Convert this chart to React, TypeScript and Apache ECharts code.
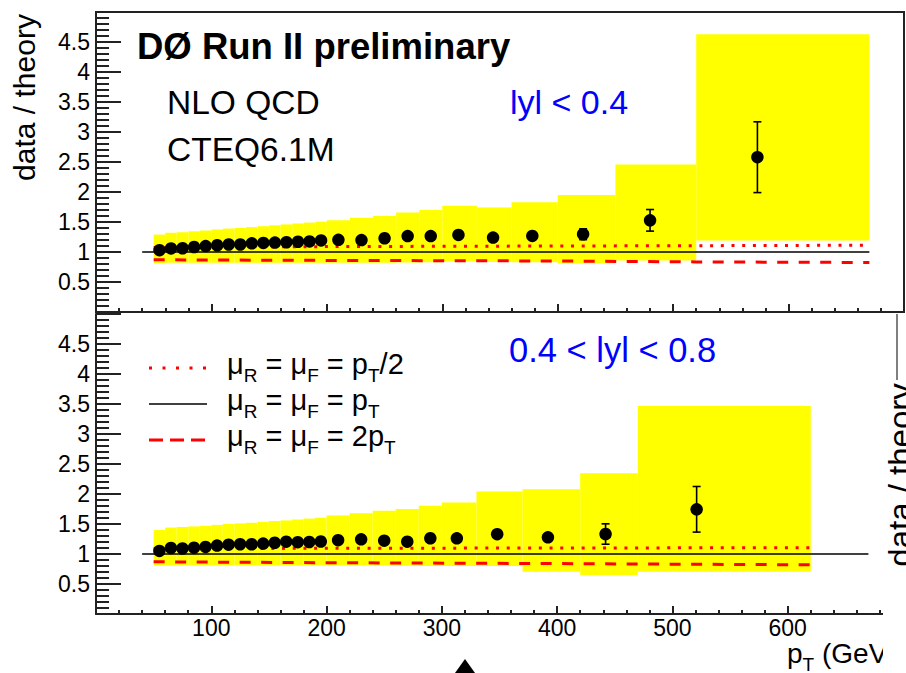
import React, { useEffect, useRef } from "react";
import * as echarts from "echarts";

const FONT = "'Liberation Sans', Arial, Helvetica, sans-serif";

// ---------- |y| < 0.4 ----------
const ptCentral = [55, 65, 75, 85, 95, 105, 115, 125, 135, 145, 155, 165, 175, 185, 195, 210, 230, 250, 270, 290, 314, 344, 378, 422, 480, 573];
const ratioCentral = [1.03, 1.06, 1.063, 1.083, 1.098, 1.112, 1.125, 1.125, 1.144, 1.151, 1.157, 1.163, 1.171, 1.177, 1.193, 1.203, 1.198, 1.229, 1.265, 1.265, 1.284, 1.24, 1.268, 1.296, 1.528, 2.58];
const statErrCentral = [0, 0, 0, 0, 0, 0, 0, 0, 0, 0, 0, 0, 0, 0, 0, 0, 0, 0, 0, 0, 0.02, 0.03, 0.04, 0.09, 0.18, 0.59];
const binEdgesCentral = [50, 60, 70, 80, 90, 100, 110, 120, 130, 140, 150, 160, 170, 180, 190, 200, 220, 240, 260, 280, 300, 330, 360, 400, 450, 520, 670];
const sysHighCentral = [1.29, 1.32, 1.33, 1.345, 1.36, 1.375, 1.39, 1.4, 1.415, 1.43, 1.445, 1.46, 1.475, 1.49, 1.505, 1.53, 1.57, 1.6, 1.66, 1.7, 1.77, 1.74, 1.83, 1.95, 2.46, 4.63];
const sysLowCentral = [0.815, 0.82, 0.82, 0.82, 0.82, 0.82, 0.82, 0.82, 0.82, 0.82, 0.82, 0.82, 0.82, 0.82, 0.82, 0.82, 0.82, 0.82, 0.825, 0.83, 0.84, 0.835, 0.83, 0.81, 0.86, 1.19];
const scaleNodesCentral = [50, 200, 400, 520, 670];
const halfScaleCentral = [1.075, 1.09, 1.1, 1.105, 1.113];
const twiceScaleCentral = [0.87, 0.86, 0.85, 0.835, 0.825];

// ---------- 0.4 < |y| < 0.8 ----------
const ptForward = [55, 65, 75, 85, 95, 105, 115, 125, 135, 145, 155, 165, 175, 185, 195, 210, 230, 250, 270, 290, 313, 348, 392, 442, 521];
const ratioForward = [1.052, 1.1, 1.092, 1.105, 1.118, 1.14, 1.155, 1.163, 1.162, 1.173, 1.187, 1.205, 1.197, 1.2, 1.208, 1.23, 1.245, 1.222, 1.205, 1.262, 1.261, 1.33, 1.278, 1.333, 1.745];
const statErrForward = [0, 0, 0, 0, 0, 0, 0, 0, 0, 0, 0, 0, 0, 0, 0, 0, 0, 0, 0, 0, 0.03, 0.04, 0.05, 0.17, 0.38];
const binEdgesForward = [50, 60, 70, 80, 90, 100, 110, 120, 130, 140, 150, 160, 170, 180, 190, 200, 220, 240, 260, 280, 300, 330, 370, 420, 470, 620];
const sysHighForward = [1.4, 1.44, 1.45, 1.46, 1.47, 1.485, 1.5, 1.51, 1.52, 1.535, 1.55, 1.56, 1.575, 1.59, 1.605, 1.64, 1.68, 1.72, 1.75, 1.805, 1.86, 2.04, 2.08, 2.345, 3.467];
const sysLowForward = [0.805, 0.81, 0.81, 0.81, 0.81, 0.81, 0.81, 0.81, 0.81, 0.81, 0.81, 0.81, 0.81, 0.81, 0.81, 0.81, 0.81, 0.81, 0.805, 0.8, 0.8, 0.8, 0.705, 0.65, 0.705];
const scaleNodesForward = [50, 200, 400, 620];
const halfScaleForward = [1.09, 1.095, 1.1, 1.105];
const twiceScaleForward = [0.87, 0.855, 0.84, 0.82];

const nominalSpan = [40, 670];
const yTicks = [0.5, 1, 1.5, 2, 2.5, 3, 3.5, 4, 4.5];
const xTicks = [100, 200, 300, 400, 500, 600];

const AXIS_COLOR = "#222";

function bandSeries(edges: number[], lo: number[], hi: number[], idx: number) {
  return {
    type: "custom",
    xAxisIndex: idx,
    yAxisIndex: idx,
    z: 1,
    silent: true,
    encode: { x: [0, 1], y: [2, 3] },
    data: hi.map((h, i) => [edges[i], edges[i + 1], lo[i], h]),
    renderItem: (_p: any, api: any) => {
      const a = api.coord([api.value(0), api.value(3)]);
      const b = api.coord([api.value(1), api.value(2)]);
      return {
        type: "rect",
        shape: { x: a[0], y: a[1], width: b[0] - a[0], height: b[1] - a[1] },
        style: { fill: "#ffff00" },
      };
    },
  };
}

function errorSeries(pt: number[], r: number[], err: number[], idx: number) {
  const data = pt
    .map((x, i) => [x, r[i] - err[i], r[i] + err[i], err[i]])
    .filter((d) => d[3] > 0.08);
  return {
    type: "custom",
    xAxisIndex: idx,
    yAxisIndex: idx,
    z: 4,
    silent: true,
    encode: { x: 0, y: [1, 2] },
    data,
    renderItem: (_p: any, api: any) => {
      const t = api.coord([api.value(0), api.value(2)]);
      const b = api.coord([api.value(0), api.value(1)]);
      const st = { stroke: "#000", lineWidth: 1.6 };
      return {
        type: "group",
        children: [
          { type: "line", shape: { x1: t[0], y1: t[1], x2: b[0], y2: b[1] }, style: st },
          { type: "line", shape: { x1: t[0] - 4, y1: t[1], x2: t[0] + 4, y2: t[1] }, style: st },
          { type: "line", shape: { x1: b[0] - 4, y1: b[1], x2: b[0] + 4, y2: b[1] }, style: st },
        ],
      };
    },
  };
}

function pointSeries(pt: number[], r: number[], idx: number) {
  return {
    type: "scatter",
    xAxisIndex: idx,
    yAxisIndex: idx,
    z: 5,
    symbol: "circle",
    symbolSize: 12.5,
    itemStyle: { color: "#000", opacity: 1 },
    data: pt.map((x, i) => [x, r[i]]),
  };
}

function curve(nodes: number[], vals: number[], idx: number, dash: number[] | "solid", color: string, width: number) {
  return {
    type: "line",
    xAxisIndex: idx,
    yAxisIndex: idx,
    z: 3,
    silent: true,
    showSymbol: false,
    symbol: "none",
    data: nodes.map((x, i) => [x, vals[i]]),
    lineStyle: { color, width, type: dash, cap: "butt" },
  };
}

function yAxis(gridIndex: number) {
  return {
    type: "value",
    gridIndex,
    min: 0,
    max: 5,
    interval: 0.5,
    axisLine: { show: true, onZero: false, lineStyle: { color: AXIS_COLOR, width: 2 } },
    axisTick: { show: true, inside: true, length: 25, lineStyle: { color: AXIS_COLOR, width: 2 } },
    minorTick: { show: true, splitNumber: 5, length: 13, lineStyle: { color: AXIS_COLOR, width: 2 } },
    splitLine: { show: false },
    axisLabel: {
      margin: 6,
      fontSize: 23,
      fontFamily: FONT,
      color: "#000",
      formatter: (v: number) => (yTicks.includes(v) ? String(v) : ""),
    },
  };
}

function xAxis(gridIndex: number, labels: boolean) {
  return {
    type: "value",
    gridIndex,
    min: 0,
    max: 700,
    interval: 100,
    axisLine: { show: true, onZero: false, lineStyle: { color: AXIS_COLOR, width: 2 } },
    axisTick: { show: true, inside: true, length: 8, lineStyle: { color: AXIS_COLOR, width: 2 } },
    minorTick: { show: true, splitNumber: 5, length: 4, lineStyle: { color: AXIS_COLOR, width: 2 } },
    splitLine: { show: false },
    axisLabel: {
      show: labels,
      margin: 2,
      fontSize: 23,
      fontFamily: FONT,
      color: "#000",
      formatter: (v: number) => (xTicks.includes(v) ? String(v) : ""),
    },
  };
}

const legendRich = {
  m: { fontSize: 29, fontFamily: FONT, fill: "#000", color: "#000" },
  s: { fontSize: 19, fontFamily: FONT, fill: "#000", color: "#000", padding: [22, 0, 0, 0] },
};

function richText(x: number, y: number, text: string, rich: any = legendRich) {
  return {
    type: "text",
    x,
    y,
    z: 100,
    style: {
      text,
      rich,
      align: "left",
      verticalAlign: "middle",
      textAlign: "left",
      textVerticalAlign: "middle",
    },
  };
}

function plainText(x: number, y: number, text: string, size: number, color = "#000", weight = "normal", rotation = 0, align = "left", z = 100) {
  return {
    type: "text",
    x,
    y,
    z,
    rotation,
    style: {
      text,
      fontSize: size,
      fontFamily: FONT,
      fontWeight: weight,
      fill: color,
      align,
      verticalAlign: "middle",
      textAlign: align,
      textVerticalAlign: "middle",
    },
  };
}

const option = {
  animation: false,
  backgroundColor: "#fff",
  grid: [
    { left: 96, top: 12, width: 808, height: 300, show: true, borderColor: AXIS_COLOR, borderWidth: 2, backgroundColor: "transparent" },
    { left: 96, top: 314, width: 808, height: 300, show: false },
  ],
  xAxis: [xAxis(0, false), xAxis(1, true)],
  yAxis: [yAxis(0), yAxis(1)],
  series: [
    bandSeries(binEdgesCentral, sysLowCentral, sysHighCentral, 0),
    curve(nominalSpan, [1, 1], 0, "solid", "#000", 1.6),
    curve(scaleNodesCentral, halfScaleCentral, 0, [3, 7.7], "#ff0000", 3),
    curve(scaleNodesCentral, twiceScaleCentral, 0, [11, 10.5], "#ff0000", 3),
    errorSeries(ptCentral, ratioCentral, statErrCentral, 0),
    pointSeries(ptCentral, ratioCentral, 0),

    bandSeries(binEdgesForward, sysLowForward, sysHighForward, 1),
    curve(nominalSpan, [1, 1], 1, "solid", "#000", 1.6),
    curve(scaleNodesForward, halfScaleForward, 1, [3, 7.7], "#ff0000", 3),
    curve(scaleNodesForward, twiceScaleForward, 1, [11, 10.5], "#ff0000", 3),
    errorSeries(ptForward, ratioForward, statErrForward, 1),
    pointSeries(ptForward, ratioForward, 1),
  ],
  graphic: [
    // upper panel annotations
    plainText(24.6, 97.5, "data / theory", 30, "#000", "normal", Math.PI / 2, "center"),
    plainText(137, 46, "DØ Run II preliminary", 36.5, "#000", "bold"),
    plainText(167, 102, "NLO QCD", 33.5),
    plainText(167, 149, "CTEQ6.1M", 33.5),
    plainText(510, 102, "lyl < 0.4", 34, "#0000ff"),
    // lower panel annotations
    plainText(509, 350, "0.4 < lyl < 0.8", 34.5, "#0000ff"),
    { type: "line", z: 100, shape: { x1: 149, y1: 368, x2: 207, y2: 368 }, style: { stroke: "#ff0000", lineWidth: 3, lineDash: [3, 10.5] } },
    richText(227, 364, "{m|μ}{s|R}{m| = μ}{s|F}{m| = p}{s|T}{m|/2}"),
    { type: "line", z: 100, shape: { x1: 149, y1: 404, x2: 207, y2: 404 }, style: { stroke: "#000", lineWidth: 1.6 } },
    richText(227, 400, "{m|μ}{s|R}{m| = μ}{s|F}{m| = p}{s|T}"),
    { type: "line", z: 100, shape: { x1: 149, y1: 440, x2: 207, y2: 440 }, style: { stroke: "#ff0000", lineWidth: 3, lineDash: [14, 7] } },
    richText(227, 436, "{m|μ}{s|R}{m| = μ}{s|F}{m| = 2p}{s|T}"),
    // x axis title
    richText(787, 653, "{m|p}{s|T}{m| (GeV)}", {
      m: { fontSize: 28, fontFamily: FONT, fill: "#000", color: "#000" },
      s: { fontSize: 19, fontFamily: FONT, fill: "#000", color: "#000", padding: [22, 0, 0, 0] },
    }),
    // right edge: lower panel ends here
    { type: "rect", z: 110, shape: { x: 883, y: 315, width: 30, height: 360 }, style: { fill: "#fff" } },
    { type: "line", z: 111, shape: { x1: 897, y1: 314, x2: 897, y2: 380 }, style: { stroke: "#555", lineWidth: 1.5 } },
    plainText(900, 475, "data / theory", 33, "#000", "normal", Math.PI / 2, "center", 112),
    // marker below the axis
    { type: "polygon", z: 100, shape: { points: [[465, 659], [455, 673], [475, 673]] }, style: { fill: "#000" } },
  ],
};

export default function App() {
  const ref = useRef<HTMLDivElement>(null);
  useEffect(() => {
    const chart = echarts.init(ref.current!, undefined, { renderer: "svg" });
    chart.setOption(option as any);
    return () => chart.dispose();
  }, []);
  return (
    <div
      ref={ref}
      style={{ position: "fixed", left: 0, top: 0, width: 906, height: 673, background: "#fff" }}
    />
  );
}
